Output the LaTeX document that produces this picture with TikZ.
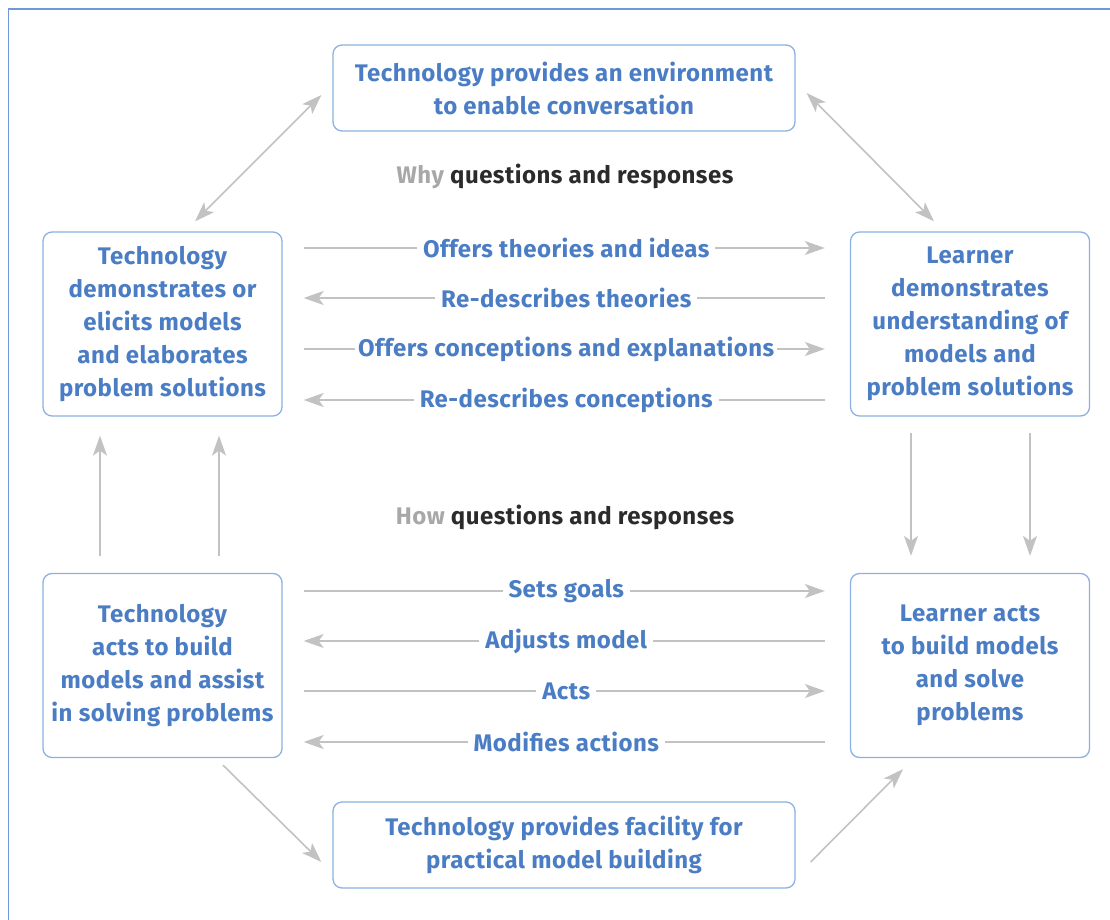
\documentclass[tikz,border=0pt]{standalone}
\usepackage{fontspec}
\setmainfont{Fira Sans}[LetterSpace=2]
\usetikzlibrary{arrows.meta}
\definecolor{txtblue}{HTML}{4A7DC4}
\definecolor{boxblue}{HTML}{8CB0E2}
\definecolor{frameblue}{HTML}{6E9ADA}
\definecolor{arrgray}{HTML}{C2C2C2}
\definecolor{whygray}{HTML}{A8A8A8}
\definecolor{darktxt}{HTML}{2B2B2B}
\tikzset{
  box/.style={draw=boxblue, line width=1.3pt, rounded corners=9pt, align=center,
    text=txtblue, font=\fontsize{24}{33}\selectfont\bfseries, inner sep=0pt},
  widebox/.style={box, minimum width=462pt, minimum height=86pt},
  sidebox/.style={box, minimum width=239pt, minimum height=184pt},
  conn/.style={draw=arrgray, line width=1.6pt},
  tip/.style={-{Stealth[length=20pt,width=14pt,inset=5pt]}},
  twotip/.style={{Stealth[length=20pt,width=14pt,inset=5pt]}-{Stealth[length=20pt,width=14pt,inset=5pt]}},
  lbl/.style={fill=white, text=txtblue, font=\fontsize{24}{28}\selectfont\bfseries, inner xsep=6pt, inner ysep=2pt},
  head/.style={font=\fontsize{24}{28}\selectfont\bfseries, text=darktxt},
}
\begin{document}
\begin{tikzpicture}[x=1pt,y=-1pt]
\useasboundingbox (0,0) rectangle (1110,920);
\draw[frameblue, line width=1.6pt] (8.5,9) rectangle (1140,950);

\node[widebox] (top) at (564,88) {Technology provides an environment\\to enable conversation};
\node[widebox] (bot) at (564,845) {Technology provides facility for\\practical model building};
\node[sidebox] (tl) at (162.5,324) {Technology\\demonstrates or\\elicits models\\and elaborates\\problem solutions};
\node[sidebox] (tr) at (970,324) {Learner\\demonstrates\\understanding of\\models and\\problem solutions};
\node[sidebox] (bl) at (162.5,665.5) {Technology\\acts to build\\models and assist\\in solving problems};
\node[sidebox] (br) at (970,665.5) {Learner acts\\to build models\\and solve\\problems};

\node[head] (why) at (565,176) {\textcolor{whygray}{Why} questions and responses};
\node[head] (how) at (565,517) {\textcolor{whygray}{How} questions and responses};

% row coordinates
\coordinate (r1) at (0,248);
\coordinate (r2) at (0,298);
\coordinate (r3) at (0,349);
\coordinate (r4) at (0,400);
\coordinate (r5) at (0,591);
\coordinate (r6) at (0,641);
\coordinate (r7) at (0,691);
\coordinate (r8) at (0,742);

\draw[conn,tip,shorten <=21pt,shorten >=25pt] (tl.east |- r1) -- node[lbl]{Offers theories and ideas} (tr.west |- r1);
\draw[conn,tip,shorten <=25pt,shorten >=21pt] (tr.west |- r2) -- node[lbl]{Re-describes theories} (tl.east |- r2);
\draw[conn,tip,shorten <=21pt,shorten >=25pt] (tl.east |- r3) -- node[lbl, inner xsep=3pt]{Offers conceptions and explanations} (tr.west |- r3);
\draw[conn,tip,shorten <=25pt,shorten >=21pt] (tr.west |- r4) -- node[lbl]{Re-describes conceptions} (tl.east |- r4);

\draw[conn,tip,shorten <=21pt,shorten >=25pt] (bl.east |- r5) -- node[lbl]{Sets goals} (br.west |- r5);
\draw[conn,tip,shorten <=25pt,shorten >=21pt] (br.west |- r6) -- node[lbl]{Adjusts model} (bl.east |- r6);
\draw[conn,tip,shorten <=21pt,shorten >=25pt] (bl.east |- r7) -- node[lbl]{Acts} (br.west |- r7);
\draw[conn,tip,shorten <=25pt,shorten >=21pt] (br.west |- r8) -- node[lbl]{Modifies actions} (bl.east |- r8);

% diagonals
\draw[conn,twotip] ([shift={(32.5,-10)}]tl.north) -- ([shift={(-11,7)}]top.west);
\draw[conn,twotip] ([shift={(11,5)}]top.east) -- ([shift={(-36,-10)}]tr.north);
\draw[conn,tip] ([shift={(60.5,7)}]bl.south) -- ([shift={(-11,17)}]bot.west);
\draw[conn,tip] ([shift={(15,17)}]bot.east) -- ([shift={(-67,11)}]br.south);

% verticals
\draw[conn,tip] ([shift={(-62.5,-17)}]bl.north) -- ([shift={(-62.5,19)}]tl.south);
\draw[conn,tip] ([shift={(56.5,-17)}]bl.north) -- ([shift={(56.5,19)}]tl.south);
\draw[conn,tip] ([shift={(-59,16)}]tr.south) -- ([shift={(-59,-17)}]br.north);
\draw[conn,tip] ([shift={(60,16)}]tr.south) -- ([shift={(60,-17)}]br.north);
\end{tikzpicture}
\end{document}
